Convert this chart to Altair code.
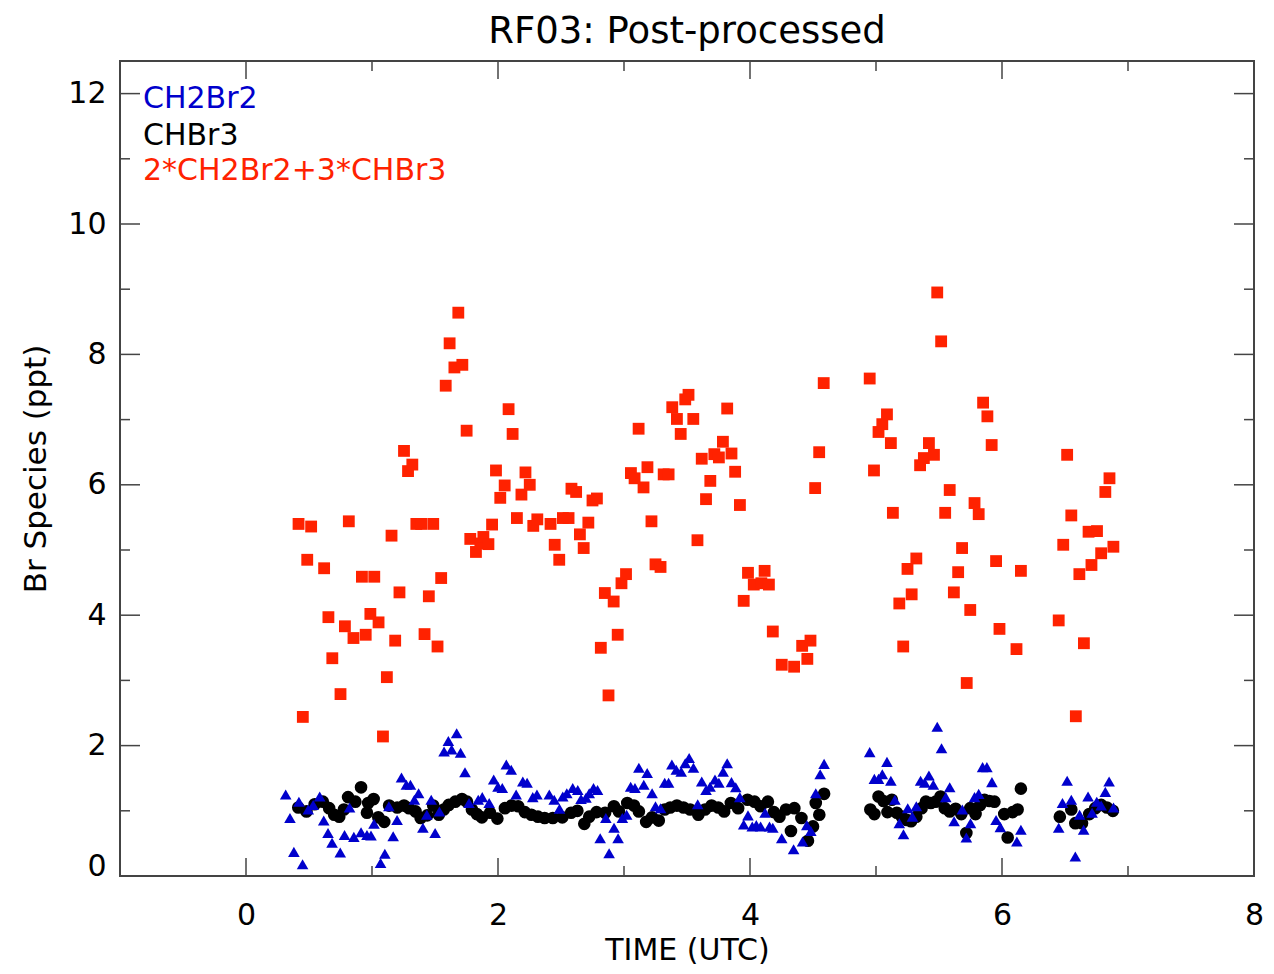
import altair as alt
import pandas as pd

TITLE = "RF03: Post-processed"
X_TITLE = "TIME (UTC)"
Y_TITLE = "Br Species (ppt)"
LEGEND_LABELS = ["CH2Br2", "CHBr3", "2*CH2Br2+3*CHBr3"]
LEGEND_COLORS = ["#0000cc", "#000000", "#ff2200"]

# CH2Br2 (blue triangles)
blue_t = [0.315, 0.349, 0.380, 0.420, 0.449, 0.494, 0.533, 0.585, 0.617, 0.651, 0.683, 0.748, 0.782, 0.822,
          0.856, 0.913, 0.960, 0.992, 1.016, 1.068, 1.102, 1.134, 1.168, 1.199, 1.234, 1.273, 1.305, 1.336,
          1.370, 1.404, 1.435, 1.470, 1.501, 1.535, 1.572, 1.606, 1.632, 1.672, 1.703, 1.738, 1.770, 1.843,
          1.875, 1.930, 1.966, 2.000, 2.034, 2.066, 2.105, 2.144, 2.197, 2.231, 2.276, 2.309, 2.407, 2.446,
          2.488, 2.514, 2.546, 2.593, 2.633, 2.659, 2.698, 2.724, 2.758, 2.790, 2.811, 2.856, 2.882, 2.921,
          2.953, 2.987, 3.021, 3.053, 3.087, 3.118, 3.157, 3.184, 3.223, 3.250, 3.290, 3.323, 3.354, 3.380,
          3.415, 3.454, 3.486, 3.517, 3.551, 3.585, 3.617, 3.651, 3.683, 3.722, 3.753, 3.787, 3.819, 3.853,
          3.887, 3.919, 3.950, 3.984, 4.018, 4.050, 4.084, 4.120, 4.155, 4.181, 4.252, 4.346, 4.417, 4.451,
          4.483, 4.522, 4.557, 4.588, 4.950, 4.987, 5.020, 5.050, 5.087, 5.118, 5.150, 5.185, 5.218, 5.252,
          5.289, 5.320, 5.354, 5.387, 5.420, 5.455, 5.486, 5.520, 5.554, 5.585, 5.620, 5.685, 5.717, 5.750,
          5.782, 5.815, 5.846, 5.880, 5.920, 5.953, 5.987, 6.118, 6.150, 6.450, 6.480, 6.517, 6.550, 6.582,
          6.616, 6.648, 6.683, 6.715, 6.752, 6.787, 6.820, 6.850, 6.885]
blue_v = [1.25, 0.89, 0.37, 1.14, 0.18, 1.02, 1.09, 1.22, 0.85, 0.66, 0.51, 0.36, 0.63, 1.05,
          0.60, 0.67, 0.63, 0.62, 0.80, 0.20, 0.34, 1.07, 0.61, 0.86, 1.51, 1.40, 1.40, 1.17,
          1.27, 0.74, 0.94, 1.17, 0.66, 0.99, 1.91, 2.07, 1.94, 2.19, 1.89, 1.59, 1.12, 1.17,
          1.21, 1.12, 1.48, 1.37, 1.35, 1.71, 1.63, 1.25, 1.45, 1.43, 1.21, 1.25, 1.25, 1.17,
          1.03, 1.22, 1.27, 1.35, 1.32, 1.18, 1.20, 1.27, 1.35, 1.32, 0.58, 0.89, 0.35, 0.74,
          0.58, 0.89, 0.94, 1.37, 1.35, 1.66, 1.40, 1.58, 1.27, 1.07, 1.04, 1.43, 1.43, 1.71,
          1.63, 1.60, 1.73, 1.81, 1.66, 1.10, 1.45, 1.32, 1.37, 1.48, 1.43, 1.60, 1.73, 1.44,
          1.36, 1.21, 0.79, 0.93, 0.76, 0.78, 0.76, 0.97, 0.76, 0.74, 0.58, 0.41, 0.53, 0.78,
          0.69, 1.27, 1.56, 1.72, 1.90, 1.49, 1.49, 1.56, 1.75, 1.46, 1.17, 0.81, 0.64, 1.04,
          0.91, 1.07, 1.46, 1.43, 1.54, 1.40, 2.29, 1.96, 1.21, 1.36, 0.84, 1.02, 0.59, 0.81,
          1.21, 1.26, 1.67, 1.67, 1.44, 0.86, 0.75, 0.53, 0.71, 0.74, 1.12, 1.46, 1.17, 0.30,
          0.94, 0.71, 1.22, 0.97, 1.14, 1.08, 1.29, 1.45, 1.05]

# CHBr3 (black circles)
black_t = [0.415, 0.480, 0.545, 0.610, 0.660, 0.700, 0.740, 0.777, 0.810, 0.868, 0.913, 0.960, 0.970, 1.013,
           1.050, 1.097, 1.136, 1.200, 1.254, 1.294, 1.346, 1.386, 1.438, 1.486, 1.530, 1.570, 1.609, 1.661,
           1.714, 1.754, 1.793, 1.832, 1.872, 1.937, 1.995, 2.055, 2.108, 2.160, 2.213, 2.265, 2.317, 2.370,
           2.435, 2.510, 2.580, 2.630, 2.685, 2.724, 2.782, 2.850, 2.920, 2.960, 3.026, 3.079, 3.118, 3.176,
           3.223, 3.276, 3.323, 3.367, 3.420, 3.472, 3.525, 3.590, 3.643, 3.695, 3.748, 3.795, 3.848, 3.906,
           3.980, 4.036, 4.084, 4.142, 4.190, 4.234, 4.286, 4.325, 4.352, 4.408, 4.460, 4.500, 4.522, 4.550,
           4.588, 4.955, 4.987, 5.020, 5.059, 5.091, 5.126, 5.165, 5.205, 5.244, 5.278, 5.320, 5.362, 5.396,
           5.435, 5.474, 5.512, 5.546, 5.585, 5.632, 5.677, 5.717, 5.748, 5.790, 5.827, 5.861, 5.900, 5.940,
           6.018, 6.045, 6.084, 6.124, 6.150, 6.459, 6.550, 6.582, 6.635, 6.693, 6.740, 6.787, 6.832, 6.880]
black_v = [1.05, 0.99, 1.10, 1.14, 1.04, 0.94, 0.91, 1.02, 1.21, 1.14, 1.36, 0.97, 1.12, 1.18,
           0.90, 0.83, 1.08, 1.05, 1.08, 1.04, 0.99, 0.89, 0.93, 1.08, 0.94, 1.02, 1.09, 1.14,
           1.18, 1.14, 1.02, 0.95, 0.90, 0.97, 0.88, 1.04, 1.08, 1.07, 0.98, 0.94, 0.91, 0.89,
           0.89, 0.90, 0.97, 1.00, 0.80, 0.91, 0.98, 0.97, 1.07, 0.99, 1.12, 1.08, 0.99, 0.83,
           0.90, 0.85, 1.02, 1.05, 1.08, 1.05, 1.02, 0.94, 1.02, 1.08, 1.05, 0.99, 1.12, 1.04,
           1.17, 1.14, 1.07, 1.14, 0.98, 0.91, 1.02, 0.69, 1.04, 0.89, 0.54, 0.76, 1.12, 0.94,
           1.26, 1.02, 0.95, 1.22, 1.15, 0.98, 1.17, 0.97, 0.91, 0.86, 0.84, 0.91, 1.04, 1.14,
           1.12, 1.14, 1.22, 1.04, 0.99, 1.03, 0.95, 0.66, 1.04, 0.95, 1.09, 1.17, 1.15, 1.14,
           0.95, 0.59, 0.98, 1.02, 1.34, 0.91, 1.02, 0.81, 0.81, 0.95, 1.04, 1.09, 1.05, 1.00]

# 2*CH2Br2+3*CHBr3 (red squares)
red_t = [0.417, 0.451, 0.486, 0.517, 0.620, 0.654, 0.685, 0.750, 0.785, 0.816, 0.853, 0.920, 0.950, 0.987,
         1.018, 1.052, 1.087, 1.118, 1.155, 1.184, 1.218, 1.254, 1.286, 1.320, 1.352, 1.390, 1.417, 1.451,
         1.486, 1.520, 1.549, 1.585, 1.616, 1.654, 1.685, 1.717, 1.751, 1.780, 1.825, 1.860, 1.884, 1.924,
         1.953, 1.984, 2.018, 2.053, 2.084, 2.116, 2.150, 2.186, 2.218, 2.252, 2.280, 2.312, 2.417, 2.450,
         2.486, 2.515, 2.560, 2.583, 2.620, 2.650, 2.680, 2.717, 2.750, 2.785, 2.816, 2.848, 2.877, 2.918,
         2.950, 2.980, 3.016, 3.055, 3.084, 3.116, 3.155, 3.186, 3.218, 3.250, 3.290, 3.315, 3.354, 3.383,
         3.420, 3.450, 3.486, 3.512, 3.550, 3.583, 3.617, 3.651, 3.685, 3.717, 3.753, 3.785, 3.819, 3.853,
         3.882, 3.920, 3.950, 3.984, 4.030, 4.090, 4.116, 4.150, 4.181, 4.252, 4.350, 4.414, 4.455, 4.480,
         4.517, 4.549, 4.585, 4.950, 4.984, 5.020, 5.050, 5.087, 5.118, 5.134, 5.185, 5.216, 5.250, 5.283,
         5.320, 5.350, 5.380, 5.420, 5.460, 5.486, 5.517, 5.549, 5.585, 5.618, 5.652, 5.683, 5.720, 5.748,
         5.782, 5.815, 5.850, 5.884, 5.918, 5.953, 5.980, 6.115, 6.150, 6.450, 6.486, 6.517, 6.550, 6.586,
         6.614, 6.650, 6.687, 6.710, 6.754, 6.787, 6.820, 6.853, 6.884]
red_v = [5.40, 2.44, 4.85, 5.36, 4.72, 3.97, 3.34, 2.79, 3.83, 5.44, 3.65, 4.59, 3.70, 4.02,
         4.59, 3.89, 2.14, 3.05, 5.22, 3.61, 4.35, 6.52, 6.21, 6.31, 5.40, 5.40, 3.71, 4.29,
         5.40, 3.52, 4.57, 7.52, 8.17, 7.80, 8.64, 7.84, 6.83, 5.17, 4.97, 5.10, 5.20, 5.09,
         5.39, 6.22, 5.80, 5.99, 7.16, 6.78, 5.49, 5.85, 6.19, 6.00, 5.37, 5.47, 5.40, 5.08,
         4.85, 5.49, 5.49, 5.94, 5.89, 5.24, 5.03, 5.42, 5.76, 5.79, 3.50, 4.34, 2.77, 4.21,
         3.70, 4.49, 4.63, 6.18, 6.10, 6.86, 5.96, 6.27, 5.44, 4.78, 4.74, 6.16, 6.16, 7.19,
         7.01, 6.78, 7.31, 7.38, 7.01, 5.15, 6.40, 5.78, 6.06, 6.47, 6.42, 6.66, 7.17, 6.48,
         6.20, 5.69, 4.22, 4.65, 4.47, 4.49, 4.68, 4.47, 3.75, 3.24, 3.21, 3.53, 3.33, 3.61,
         5.95, 6.50, 7.56, 7.63, 6.22, 6.81, 6.93, 7.08, 6.64, 5.57, 4.18, 3.52, 4.71, 4.32,
         4.87, 6.30, 6.41, 6.64, 6.46, 8.95, 8.20, 5.57, 5.92, 4.35, 4.66, 5.03, 2.96, 4.08,
         5.72, 5.55, 7.26, 7.05, 6.61, 4.83, 3.79, 3.48, 4.68, 3.92, 5.08, 6.46, 5.53, 2.45,
         4.63, 3.57, 5.28, 4.77, 5.29, 4.95, 5.89, 6.10, 5.05]

X_LABEL_TICKS = [0, 2, 4, 6, 8]
Y_LABEL_TICKS = [0, 2, 4, 6, 8, 10, 12]
X_MAJOR_INNER = [0, 2, 4, 6]
X_MINOR_INNER = [1, 3, 5, 7]
Y_MAJOR_INNER = [2, 4, 6, 8, 10, 12]
Y_MINOR_INNER = [1, 3, 5, 7, 9, 11]

W, H = 1134, 815
FONT = "DejaVu Sans"
FRAME = "#444444"

xs = alt.Scale(domain=[-1, 8], nice=False, zero=False)
ys = alt.Scale(domain=[0, 12.5], nice=False, zero=False)

blue_df = pd.DataFrame({"t": blue_t, "v": blue_v})
black_df = pd.DataFrame({"t": black_t, "v": black_v})
red_df = pd.DataFrame({"t": red_t, "v": red_v})

x_axis = alt.Axis(values=X_LABEL_TICKS, format="d", title=X_TITLE, ticks=False, tickSize=0, domain=False, grid=False,
                  labelFont=FONT, labelFontSize=30, labelColor="black", labelPadding=24,
                  labelFlush=False, labelOverlap=False,
                  titleFont=FONT, titleFontSize=30, titleFontWeight="normal", titleColor="black",
                  titleX=W / 2, titleY=83, titleBaseline="alphabetic", titleAlign="center")
y_axis = alt.Axis(values=Y_LABEL_TICKS, format="d", title=Y_TITLE, ticks=False, tickSize=0, domain=False, grid=False,
                  labelFont=FONT, labelFontSize=30, labelColor="black", labelPadding=14,
                  labelFlush=False, labelOverlap=False,
                  labelOffset={"condition": {"test": "datum.value === 0", "value": -10}, "value": 0},
                  titleFont=FONT, titleFontSize=31, titleFontWeight="normal", titleColor="black",
                  titleX=-75, titleY=H / 2, titleAngle=270, titleBaseline="alphabetic", titleAlign="center")

black_layer = alt.Chart(black_df).mark_point(shape="circle", filled=True, size=160, color="#000000", opacity=1).encode(
    x=alt.X("t:Q", scale=xs, axis=x_axis),
    y=alt.Y("v:Q", scale=ys, axis=y_axis),
)
blue_layer = alt.Chart(blue_df).mark_point(shape="triangle-up", filled=True, size=135, color=LEGEND_COLORS[0], opacity=1).encode(
    x=alt.X("t:Q", scale=xs),
    y=alt.Y("v:Q", scale=ys),
)
red_layer = alt.Chart(red_df).mark_point(shape="square", filled=True, size=140, color=LEGEND_COLORS[2], opacity=1).encode(
    x=alt.X("t:Q", scale=xs),
    y=alt.Y("v:Q", scale=ys),
)

tick_style = dict(color=FRAME, strokeWidth=1.5)


def xticks(vals, length):
    df = pd.DataFrame({"t": vals})
    bottom = alt.Chart(df).mark_rule(**tick_style).encode(
        x=alt.X("t:Q", scale=xs), y=alt.value(H), y2=alt.value(H - length))
    top = alt.Chart(df).mark_rule(**tick_style).encode(
        x=alt.X("t:Q", scale=xs), y=alt.value(0), y2=alt.value(length))
    return [bottom, top]


def yticks(vals, length):
    df = pd.DataFrame({"v": vals})
    left = alt.Chart(df).mark_rule(**tick_style).encode(
        y=alt.Y("v:Q", scale=ys), x=alt.value(0), x2=alt.value(length))
    right = alt.Chart(df).mark_rule(**tick_style).encode(
        y=alt.Y("v:Q", scale=ys), x=alt.value(W), x2=alt.value(W - length))
    return [left, right]


tick_layers = xticks(X_MAJOR_INNER, 18) + xticks(X_MINOR_INNER, 10) + yticks(Y_MAJOR_INNER, 20) + yticks(Y_MINOR_INNER, 10)

legend_layers = []
legend_y = [38, 75, 110]
for lab, col, yy in zip(LEGEND_LABELS, LEGEND_COLORS, legend_y):
    legend_layers.append(
        alt.Chart(pd.DataFrame({"label": [lab]})).mark_text(
            font=FONT, fontSize=30, color=col, align="left", baseline="middle"
        ).encode(text="label:N", x=alt.value(23), y=alt.value(yy))
    )

title_layer = alt.Chart(pd.DataFrame({"label": [TITLE]})).mark_text(
    font=FONT, fontSize=37, color="black", align="center", baseline="alphabetic"
).encode(text="label:N", x=alt.value(W / 2), y=alt.value(-18))

chart = alt.layer(
    black_layer, blue_layer, red_layer, *tick_layers, *legend_layers, title_layer
).properties(
    width=W, height=H,
    autosize=alt.AutoSizeParams(type="none"),
    padding={"left": 112, "top": 53, "right": 12, "bottom": 90},
    background="white",
).configure_view(
    stroke=FRAME, strokeWidth=2
)

chart.save("out.html", embed_options={"renderer": "svg", "actions": False})
